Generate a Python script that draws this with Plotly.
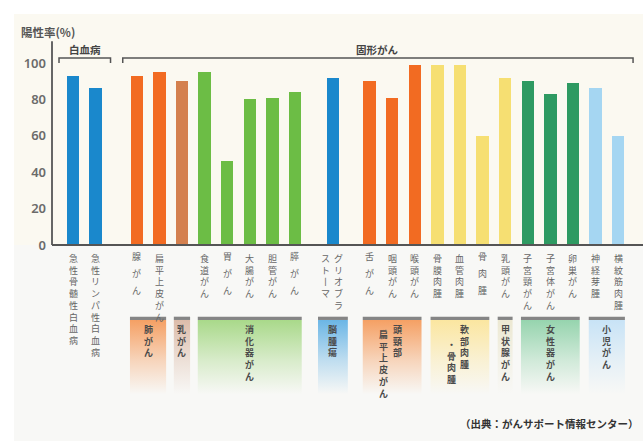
import plotly.graph_objects as go

# ---------------- data ----------------
categories = ["急性骨髄性白血病", "急性リンパ性白血病", "腺がん", "扁平上皮がん", "乳がん",
              "食道がん", "胃がん", "大腸がん", "胆管がん", "膵がん", "グリオブラストーマ",
              "舌がん", "咽頭がん", "喉頭がん", "骨膜肉腫", "血管肉腫", "骨肉腫", "乳頭がん",
              "子宮頸がん", "子宮体がん", "卵巣がん", "神経芽腫", "横紋筋肉腫"]
values = [93, 86, 93, 95, 90, 95, 46, 80, 81, 84, 92, 90, 81, 99, 99, 99, 60, 92, 90, 83, 89, 86, 60]
# vertical tick labels ("/" = next column to the left, "" = no label)
tick_labels = ["急性骨髄性白血病", "急性リンパ性白血病", "腺がん", "扁平上皮がん", "",
               "食道がん", "胃がん", "大腸がん", "胆管がん", "膵がん", "グリオブラ/ストーマ",
               "舌がん", "咽頭がん", "喉頭がん", "骨膜肉腫", "血管肉腫", "骨肉腫", "乳頭がん",
               "子宮頸がん", "子宮体がん", "卵巣がん", "神経芽腫", "横紋筋肉腫"]
# bar -> sub group
group_names = ["白血病", "肺がん", "乳がん", "消化器がん", "脳腫瘍", "頭頸部扁平上皮がん",
               "軟部肉腫・骨肉腫", "甲状腺がん", "女性器がん", "小児がん"]
group_of_bar = [0, 0, 1, 1, 2, 3, 3, 3, 3, 3, 4, 5, 5, 5, 6, 6, 6, 7, 8, 8, 8, 9, 9]
group_box_labels = [None, "肺がん", "乳がん", "消化器がん", "脳腫瘍", "頭頸部/扁平上皮がん",
                    "軟部肉腫/・骨肉腫", "甲状腺がん", "女性器がん", "小児がん"]
# bar -> spacing cluster (leukemia / lung..digestive / brain / rest)
cluster_of_bar = [0, 0, 1, 1, 1, 1, 1, 1, 1, 1, 2, 3, 3, 3, 3, 3, 3, 3, 3, 3, 3, 3, 3]
brackets = [("白血病", 0, 1), ("固形がん", 2, 22)]
y_ticks = [0, 20, 40, 60, 80, 100]
source_note = "（出典：がんサポート情報センター）"

# ---------------- style ----------------
W, H = 643, 441
bar_colors = ["#1a88cc", "#f26b22", "#d4804e", "#6cbd45", "#1a88cc", "#f26b22",
              "#f6df72", "#f6df72", "#2e9a62", "#a5d6f2"]
box_colors = [None, "#f5a064", "#dcbcaa", "#a9d98a", "#6bb6e6", "#f5a064",
              "#fbe6a0", "#ece8d2", "#96d4ae", "#c8e3f6"]
box_pad = [0.3, 0.3, 0.36, 0.3, 0.66, 0.3, 0.3, 0.33, 0.3, 0.3]
cluster_gap = [0, 0.82, 1.5, 2.12]
CJK = "Noto Sans CJK JP"

xpos = [i + cluster_gap[c] for i, c in enumerate(cluster_of_bar)]
colors = [bar_colors[g] for g in group_of_bar]


def py(px):
    return 1 - px / H


def rgba(hexc, a):
    h = hexc.lstrip("#")
    r, g, b = int(h[0:2], 16), int(h[2:4], 16), int(h[4:6], 16)
    return f"rgba({r},{g},{b},{a})"


def vert(ch):
    return {"ー": "丨"}.get(ch, ch)


def vtext(s):
    return "<br>".join(vert(c) for c in s)


fig = go.Figure()
fig.add_trace(go.Bar(x=xpos, y=values, width=0.55, marker=dict(color=colors, line=dict(width=0)),
                     hovertext=categories, hoverinfo="text+y", showlegend=False))

shapes = []
annotations = []

# backgrounds
shapes.append(dict(type="rect", xref="paper", yref="paper", x0=(14 - 52) / 591, x1=1,
                   y0=py(245), y1=py(14), fillcolor="#fbf9f1", line=dict(width=0), layer="below"))
shapes.append(dict(type="rect", xref="paper", yref="paper", x0=(14 - 52) / 591, x1=1,
                   y0=0, y1=py(245), fillcolor="#f8f8f6", line=dict(width=0), layer="below"))

# axes lines
shapes.append(dict(type="line", xref="paper", yref="y", x0=0, x1=0, y0=0, y1=112,
                   line=dict(color="#666666", width=2)))
shapes.append(dict(type="line", xref="paper", yref="y", x0=0, x1=1, y0=0, y1=0,
                   line=dict(color="#555555", width=2)))

# brackets
for name, a, b in brackets:
    x0 = xpos[a] - 0.62
    x1 = xpos[b] + 0.66
    shapes.append(dict(type="path", xref="x", yref="y",
                       path=f"M {x0},100 L {x0},102.7 L {x1},102.7 L {x1},100",
                       line=dict(color="#555555", width=1.5)))
    annotations.append(dict(x=(x0 + x1) / 2, xref="x", y=py(49), yref="paper", text=name,
                            showarrow=False, xanchor="center", yanchor="middle",
                            font=dict(family=CJK, size=10.5, color="#444444", weight="bold")))

# y-axis title
annotations.append(dict(x=(19 - 52) / 591, xref="paper", y=py(32), yref="paper", text="陽性率(%)",
                        xanchor="left", yanchor="middle", showarrow=False,
                        font=dict(family=CJK, size=11.5, color="#555555", weight="bold")))

# vertical category labels
LBL = dict(family=CJK, size=9, color="#666666")
for i, lab in enumerate(tick_labels):
    if not lab:
        continue
    cols = lab.split("/")
    if len(cols) == 1 and len(lab) == 3:
        for k, ch in enumerate(lab):
            annotations.append(dict(x=xpos[i], xref="x", y=py(256.5 + k * 17), yref="paper",
                                    text=vert(ch), showarrow=False, xanchor="center",
                                    yanchor="middle", font=LBL))
        continue
    offs = [0] if len(cols) == 1 else [5.5, -7]
    for c, col in enumerate(cols):
        annotations.append(dict(x=xpos[i], xref="x", xshift=offs[c], y=py(250), yref="paper",
                                text=vtext(col), showarrow=False, xanchor="center",
                                yanchor="top", font=LBL))

# group boxes
GLBL = dict(family=CJK, size=9, color="#4a4a4a", weight="bold")
for g, lab in enumerate(group_box_labels):
    if lab is None:
        continue
    idx = [i for i, gg in enumerate(group_of_bar) if gg == g]
    x0 = xpos[idx[0]] - box_pad[g]
    x1 = xpos[idx[-1]] + box_pad[g]
    ytop, ybot = -41.2, -82.0
    col = box_colors[g]
    fig.add_trace(go.Scatter(x=[x0, x1, x1, x0, x0], y=[ytop, ytop, ybot, ybot, ytop],
                             fill="toself", mode="none", hoverinfo="skip", showlegend=False,
                             fillgradient=dict(type="vertical",
                                               colorscale=[[0, rgba(col, 0)], [0.45, rgba(col, 0.4)],
                                                           [1, rgba(col, 1)]],
                                               start=ybot, stop=ytop)))
    shapes.append(dict(type="rect", xref="x", yref="y", x0=x0, x1=x1, y0=-41.2, y1=-39.4,
                       fillcolor="#858585", line=dict(width=0)))
    cols = lab.split("/")
    xc = (xpos[idx[0]] + xpos[idx[-1]]) / 2
    if len(cols) == 1:
        specs = [(0, 321)]
    else:
        specs = [(5, 321), (-8.5, 326 if g == 5 else 336)]
    for (xs, ytopl), ctext in zip(specs, cols):
        annotations.append(dict(x=xc, xref="x", xshift=xs, y=py(ytopl), yref="paper",
                                text=vtext(ctext), showarrow=False, xanchor="center", yanchor="top",
                                font=GLBL))

# source
annotations.append(dict(x=(641 - 52) / 591, xref="paper", y=py(423), yref="paper", text=source_note,
                        xanchor="right", yanchor="middle", showarrow=False,
                        font=dict(family=CJK, size=10.5, color="#333333", weight="bold")))

fig.update_layout(
    width=W, height=H, margin=dict(l=52, r=0, t=0, b=0),
    paper_bgcolor="#ffffff", plot_bgcolor="rgba(0,0,0,0)",
    xaxis=dict(range=[-0.93, 25.22], showgrid=False, zeroline=False, showticklabels=False,
               ticks="", showline=False, fixedrange=True),
    yaxis=dict(range=[-107.7, 134.6], tickvals=y_ticks, showgrid=False, zeroline=False,
               showline=False, ticks="", ticklabelstandoff=5,
               tickfont=dict(family="Noto Sans", size=13, color="#6b6b6b", weight=600)),
    shapes=shapes, annotations=annotations, bargap=0,
)

fig.write_html("out.html")
